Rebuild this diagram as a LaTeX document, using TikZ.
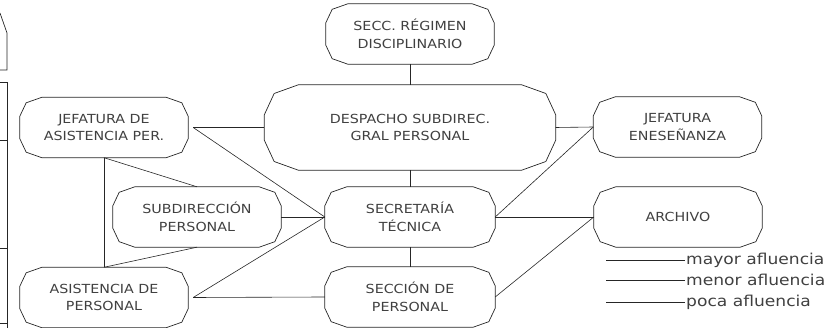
\documentclass[tikz,border=0pt]{standalone}
\usepackage{fontspec}
\setmainfont{DejaVu Sans}[FakeStretch=1.14]
\usetikzlibrary{calc}
% outline of an office box: rectangle with two-facet corners
\newcommand{\ofibox}[3]{%
  \draw[ofiline] ($(#1.north west)+(0pt,-#3)$) -- ($(#1.north west)+(0.29*#2,-0.29*#3)$)
    -- ($(#1.north west)+(#2,0pt)$) -- ($(#1.north east)+(-#2,0pt)$)
    -- ($(#1.north east)+(-0.29*#2,-0.29*#3)$) -- ($(#1.north east)+(0pt,-#3)$)
    -- ($(#1.south east)+(0pt,#3)$) -- ($(#1.south east)+(-0.29*#2,0.29*#3)$)
    -- ($(#1.south east)+(-#2,0pt)$) -- ($(#1.south west)+(#2,0pt)$)
    -- ($(#1.south west)+(0.29*#2,0.29*#3)$) -- ($(#1.south west)+(0pt,#3)$) -- cycle;}

\begin{document}
\begin{tikzpicture}[x=1pt,y=-1pt,
    ofiline/.style={draw=black!85,line width=0.7pt},
    link/.style={draw=black!85,line width=0.6pt},
    ofi/.style={minimum width=168pt,minimum height=60pt,inner sep=0pt,align=center,
      text=black!75,font=\fontsize{12.5}{17.5}\selectfont},
    legtext/.style={anchor=west,inner xsep=1pt,text=black!75,font=\fontsize{15}{16}\selectfont}]
    \useasboundingbox (0,0) rectangle (827,328);
    % cut-off shapes at the left edge
    \draw[ofiline] (0,13) -- (7,33) -- (7,70) -- (0,70);
    \draw[ofiline] (0,82) -- (7,82) -- (7,330);
    \draw[ofiline] (0,140) -- (7,140) (0,248) -- (7,248) (0,323) -- (7,323);
    % offices
    \node[ofi] (secc) at (410,34) {SECC. RÉGIMEN\\DISCIPLINARIO};
    \node[ofi,minimum width=291pt,minimum height=85pt] (desp) at (410,127.5) {DESPACHO SUBDIREC.\\GRAL PERSONAL};
    \node[ofi] (jefas) at (104,127.5) {JEFATURA DE\\ASISTENCIA PER.};
    \node[ofi] (jefens) at (677.5,127) {JEFATURA\\ENESEÑANZA};
    \node[ofi] (subdir) at (197,217) {SUBDIRECCIÓN\\PERSONAL};
    \node[ofi,minimum width=170pt] (secret) at (410,217) {SECRETARÍA\\TÉCNICA};
    \node[ofi] (archivo) at (678,217) {ARCHIVO};
    \node[ofi] (asis) at (104,297.5) {ASISTENCIA DE\\PERSONAL};
    \node[ofi,minimum width=170pt] (seccion) at (410,297) {SECCIÓN DE\\PERSONAL};
    \foreach \n in {secc,jefas,jefens,subdir,secret,archivo,asis,seccion}
      \ofibox{\n}{22pt}{19pt};
    \ofibox{desp}{34pt}{30pt}
    % links
    \draw[link] (secc.south) -- (desp.north);
    \draw[link] (desp.south) -- (secret.north);
    \draw[link] (secret.south) -- (seccion.north);
    \draw[link] ([xshift=5pt]jefas.east) -- (desp.west);
    \draw[link] ([xshift=5pt]jefas.east) -- (secret.west);
    \draw[link] (jefas.south) -- (asis.north);
    \draw[link] (jefas.south) -- (subdir.north);
    \draw[link] (subdir.south) -- (asis.north);
    \draw[link] (subdir.east) -- (secret.west);
    \draw[link] ([xshift=5pt]asis.east) -- (secret.west);
    \draw[link] ([xshift=5pt]asis.east) -- (seccion.west);
    \draw[link] (desp.east) -- (jefens.west);
    \draw[link] (secret.east) -- (jefens.west);
    \draw[link] (secret.east) -- (archivo.west);
    \draw[link] (seccion.east) -- (archivo.west);
    % legend
    \node[legtext] (mayor) at (685,260) {mayor afluencia};
    \node[legtext] (menor) at (685,280) {menor afluencia};
    \node[legtext] (poca) at (685,302) {poca afluencia};
    \coordinate (lmayor) at (606,260);
    \coordinate (lmenor) at (606,280);
    \coordinate (lpoca) at (606,302);
    \draw[link] (lmayor) -- (mayor.west);
    \draw[link] (lmenor) -- (menor.west);
    \draw[link] (lpoca) -- (poca.west);
  \end{tikzpicture}
\end{document}
